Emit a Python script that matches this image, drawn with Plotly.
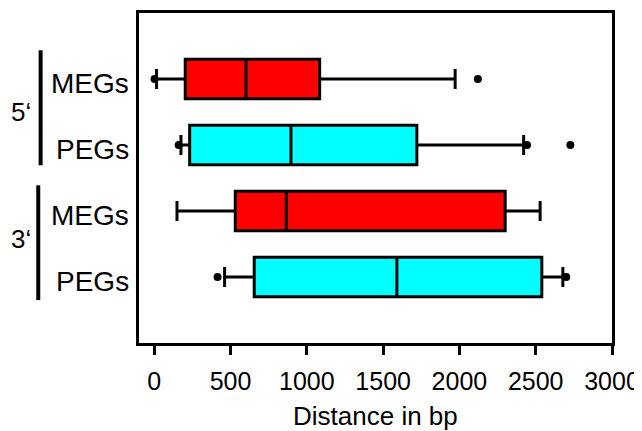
import plotly.graph_objects as go

# ---- data ----
groups = ["5‘", "5‘", "3‘", "3‘"]
labels = ["MEGs", "PEGs", "MEGs", "PEGs"]
positions = [0, 1, 2, 3]
q1 = [203, 232, 531, 655]
median = [601, 896, 865, 1590]
q3 = [1084, 1721, 2300, 2540]
lowerfence = [15, 175, 149, 461]
upperfence = [1972, 2421, 2529, 2678]
outliers = [[2, 2121], [160, 2443, 2727], [], [415, 2700]]
fills = ["#FF0000", "#00FFFF", "#FF0000", "#00FFFF"]
xticks = [0, 500, 1000, 1500, 2000, 2500, 3000]
x_title = "Distance in bp"

FONT = "Arial, Liberation Sans, sans-serif"

fig = go.Figure()
for i in range(4):
    fig.add_trace(go.Box(
        orientation="h",
        y=[positions[i]],
        q1=[q1[i]], median=[median[i]], q3=[q3[i]],
        lowerfence=[lowerfence[i]], upperfence=[upperfence[i]],
        width=0.6, whiskerwidth=0.5,
        fillcolor=fills[i],
        line=dict(color="black", width=3),
        boxpoints=False, showlegend=False, hoverinfo="skip",
    ))
for i in range(4):
    if outliers[i]:
        fig.add_trace(go.Scatter(
            x=outliers[i], y=[positions[i]] * len(outliers[i]),
            mode="markers", marker=dict(color="black", size=8),
            showlegend=False, hoverinfo="skip",
        ))

annotations = []
for i in range(4):
    annotations.append(dict(
        text=labels[i], x=-0.016, xref="paper", y=positions[i] + 0.07, yref="y",
        xanchor="right", yanchor="middle", showarrow=False,
        font=dict(family=FONT, size=28, color="black"),
    ))
annotations.append(dict(text=groups[0], x=-0.225, xref="paper", y=0.5, yref="y",
                        xanchor="right", yanchor="middle", showarrow=False,
                        font=dict(family=FONT, size=26, color="black")))
annotations.append(dict(text=groups[2], x=-0.225, xref="paper", y=2.42, yref="y",
                        xanchor="right", yanchor="middle", showarrow=False,
                        font=dict(family=FONT, size=26, color="black")))
annotations.append(dict(text=x_title, x=0.5, xref="paper", y=-0.222, yref="paper",
                        xanchor="center", yanchor="middle", showarrow=False,
                        font=dict(family=FONT, size=26, color="black")))

shapes = [
    dict(type="line", xref="paper", yref="y", x0=-0.208, x1=-0.208, y0=-0.435, y1=1.307,
         line=dict(color="black", width=4)),
    dict(type="line", xref="paper", yref="y", x0=-0.213, x1=-0.213, y0=1.61, y1=3.35,
         line=dict(color="black", width=4)),
]

# the page body has an 8px default margin, so the figure is sized to fit the window
fig.update_layout(
    width=634, height=423,
    margin=dict(l=131, r=30, t=5, b=88),
    paper_bgcolor="white", plot_bgcolor="white",
    font=dict(family=FONT, color="black"),
    annotations=annotations, shapes=shapes,
    xaxis=dict(
        range=[-100, 3000], tickvals=xticks, ticktext=[str(v) for v in xticks],
        ticks="outside", ticklen=9, tickwidth=3, tickcolor="black",
        showline=True, linewidth=3, linecolor="black", mirror=True,
        showgrid=False, zeroline=False, automargin=False,
        ticklabelstandoff=5,
        tickfont=dict(family=FONT, size=25, color="black"),
    ),
    yaxis=dict(
        range=[4, -1], showticklabels=False, ticks="",
        showline=True, linewidth=3, linecolor="black", mirror=True,
        showgrid=False, zeroline=False, automargin=False,
    ),
)

fig.write_html("out.html")
